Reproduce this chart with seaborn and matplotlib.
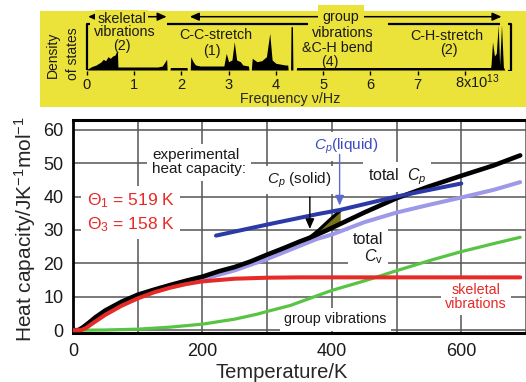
import matplotlib
matplotlib.use("Agg")
import matplotlib.pyplot as plt
from matplotlib.patches import Rectangle
import seaborn as sns

# heat capacity panel: temperature in K, heat capacity in J/(K mol)
temp_total = [0, 8, 15, 25, 35, 50, 75, 100, 125, 150, 175, 200, 225, 250, 275, 300,
              325, 350, 365, 390, 413, 450, 500, 550, 600, 650, 691]
cp_total = [0, 0, 0.8, 2.3, 3.9, 5.9, 8.5, 10.6, 12.1, 13.5, 14.8, 16.0, 17.6, 18.9, 20.6, 22.6,
            24.5, 26.5, 27.6, 29.7, 31.8, 35.2, 39.5, 43.0, 46.2, 49.3, 52.3]

# experimental Cp(solid) near melting, and the total Cp beneath it
temp_solid = [365, 380, 395, 413]
cp_solid = [27.6, 30.0, 32.7, 35.8]
cp_total_melt = [27.6, 28.9, 30.2, 31.8]

temp_liquid = [221, 300, 377, 413, 500, 600]
cp_liquid = [28.3, 31.6, 34.7, 36.0, 40.0, 43.9]

temp_cv = [0, 10, 25, 50, 75, 100, 150, 200, 250, 300, 350, 377, 400, 450, 500, 550, 600, 650, 691]
cv_total = [0, 0, 1.8, 5.4, 8.0, 9.9, 13.0, 15.2, 17.9, 21.3, 25.2, 27.3, 28.6, 32.3, 35.2, 37.5,
            39.7, 42.0, 44.3]

temp_skel = [0, 12, 20, 30, 50, 75, 100, 125, 150, 175, 200, 250, 300, 350, 691]
cp_skel = [0, 0, 0.6, 2.0, 4.6, 7.3, 9.5, 11.3, 12.7, 13.8, 14.6, 15.4, 15.7, 15.8, 15.8]

temp_group = [0, 15, 50, 100, 150, 200, 250, 285, 300, 336, 387, 400, 453, 500, 554, 600, 650, 691]
cp_group = [0, 0, 0.05, 0.3, 0.9, 1.8, 3.3, 4.8, 5.6, 7.4, 11.0, 11.9, 14.9, 17.8, 21.0, 23.5,
            25.9, 27.8]

# density of states panel: frequency in 1e13 Hz, height in arbitrary units
dos_freq = [0.00, 0.10, 0.20, 0.30, 0.35, 0.40, 0.45, 0.50, 0.55, 0.60, 0.63, 0.65, 0.66,
            1.50, 1.60, 1.69, 1.70,
            1.76, 1.77, 2.12, 2.13,
            2.19, 2.20, 2.25, 2.30, 2.40, 2.90, 2.95, 3.00, 3.07, 3.12, 3.17, 3.25, 3.30, 3.42, 3.43,
            3.48, 3.50, 3.60, 3.70, 3.80, 3.87, 3.92, 4.00, 4.20, 4.25, 4.26,
            4.31, 4.32, 4.35, 4.36,
            4.43, 4.44, 8.54, 8.55,
            8.58, 8.62, 8.66, 8.70, 8.73, 8.77, 8.81, 8.84]
dos_height = [0.5, 3.3, 5.0, 8.0, 10.7, 9.3, 13.3, 11.7, 14.0, 15.0, 18.3, 18.0, 3.0,
              3.0, 4.0, 10.7, 0.0,
              0.0, 2.5, 2.5, 0.0,
              0.0, 13.3, 8.3, 5.0, 4.0, 4.0, 16.7, 8.3, 10.0, 28.3, 10.0, 8.3, 5.0, 4.0, 0.0,
              0.0, 11.7, 8.3, 9.3, 13.3, 36.7, 10.0, 6.7, 5.0, 5.0, 0.0,
              0.0, 43.3, 43.3, 0.0,
              0.0, 2.5, 2.5, 6.0,
              28.3, 14.0, 16.7, 45.0, 5.0, 45.0, 3.0, 0.0]
dos_ticks = [0, 1, 2, 3, 4, 5, 6, 7, 8]
dos_ticklabels = ["0", "1", "2", "3", "4", "5", "6", "7", ""]
band_tops = [(1.69, 4.68), (6.37, 8.74)]
bracket_left = 0.0
bracket_right = 8.97
bracket_height = 46
arrow_skeletal = (0.03, 1.69)
arrow_group = (2.18, 8.77)

sns.set_theme(style="white")
plt.rcParams["font.family"] = ["Liberation Sans", "DejaVu Sans"]
plt.rcParams["mathtext.fontset"] = "custom"
plt.rcParams["mathtext.rm"] = "Liberation Sans"
plt.rcParams["mathtext.it"] = "Liberation Sans:italic"
plt.rcParams["mathtext.bf"] = "Liberation Sans:bold"
plt.rcParams["text.color"] = "#1a1a1a"

W, H = 526, 382


def box(x0, y0, x1, y1):
    return [x0 / W, 1 - y1 / H, (x1 - x0) / W, (y1 - y0) / H]


fig = plt.figure(figsize=(W / 100, H / 100), dpi=100)
fig.add_artist(Rectangle(box(40, 11, 526, 107)[:2], 486 / W, 96 / H, transform=fig.transFigure,
                         facecolor="#ebe23a", edgecolor="none", zorder=-1))

# ---------------- main heat capacity plot
ax = fig.add_axes(box(73, 120, 526, 333))
ax.set_facecolor("white")

sns.lineplot(x=temp_group, y=cp_group, ax=ax, color="#58c444", lw=2.3, zorder=3)
sns.lineplot(x=temp_cv, y=cv_total, ax=ax, color="#9d99e8", lw=2.9, zorder=3.1)
ax.fill_between(temp_solid, cp_total_melt, cp_solid, color="#77731a", lw=0, zorder=3.2)
sns.lineplot(x=temp_total, y=cp_total, ax=ax, color="black", lw=3.3, zorder=3.3)
sns.lineplot(x=temp_solid, y=cp_solid, ax=ax, color="black", lw=2.3, zorder=3.3)
sns.lineplot(x=temp_skel, y=cp_skel, ax=ax, color="#e52a27", lw=2.9, zorder=3.4)
sns.lineplot(x=temp_liquid, y=cp_liquid, ax=ax, color="#2c3aa8", lw=2.9, zorder=3.5)

ax.set_xlim(0, 691)
ax.set_ylim(-0.85, 62.9)
ax.set_xticks([0, 200, 400, 600])
ax.set_xticks([100, 300, 500, 700], minor=True)
ax.set_yticks(range(0, 61, 10))
ax.set_axisbelow(True)
ax.grid(True, which="both", color="#555555", lw=1.1)
ax.tick_params(axis="both", which="both", length=0, labelsize=13, pad=7, labelcolor="#1a1a1a")
ax.spines["right"].set_visible(False)
ax.spines["top"].set_linewidth(2.2)
ax.spines["left"].set_linewidth(2.0)
ax.spines["bottom"].set_linewidth(2.2)
for s in ax.spines.values():
    s.set_color("black")

ax.set_xlabel("Temperature/K", fontsize=14.5, va="center")
ax.xaxis.set_label_coords(0.461, -0.186)
ax.set_ylabel("Heat capacity/JK$^{-1}$mol$^{-1}$", fontsize=15, va="center")
ax.yaxis.set_label_coords(-0.106, 0.488)

wbox = dict(boxstyle="square,pad=0.3", facecolor="white", edgecolor="none")
ax.text(122, 50.2, "experimental\nheat capacity:", fontsize=11, ha="left", va="center",
        linespacing=1.0, bbox=wbox, zorder=2.6)
ax.text(21, 38.7, "\u0398$_1$ = 519 K", fontsize=12.5, color="#e52a27", ha="left", va="center",
        bbox=wbox, zorder=2.6)
ax.text(21, 31.7, "\u0398$_3$ = 158 K", fontsize=12.5, color="#e52a27", ha="left", va="center",
        bbox=wbox, zorder=2.6)
ax.text(349, 44.9, "$C_p$ (solid)", fontsize=11, ha="center", va="center", bbox=wbox, zorder=2.6)
ax.text(422, 54.9, "$C_p$(liquid)", fontsize=11, color="#3b4bc0", ha="center", va="center",
        bbox=wbox, zorder=2.6)
ax.text(501, 45.9, "total  $C_p$", fontsize=11.5, ha="center", va="center", bbox=wbox, zorder=2.6)
ax.text(479, 24.2, "total\n$C_\\mathrm{v}$", fontsize=11.5, ha="right", va="center",
        multialignment="right", linespacing=1.0, bbox=wbox, zorder=2.6)
ax.text(623, 10.0, "skeletal\nvibrations", fontsize=10.3, color="#e52a27", ha="center",
        va="center", linespacing=1.0, bbox=wbox, zorder=2.6)
ax.text(405, 3.2, "group vibrations", fontsize=10.3, ha="center", va="center", bbox=wbox,
        zorder=2.6)

ax.annotate("", xy=(366, 30.3), xytext=(366, 39.8),
            arrowprops=dict(arrowstyle="-|>,head_length=0.5,head_width=0.22", color="black",
                            lw=1.0, shrinkA=0, shrinkB=0), zorder=4)
ax.annotate("", xy=(412, 37.3), xytext=(412, 52.6),
            arrowprops=dict(arrowstyle="-|>,head_length=0.5,head_width=0.22", color="#5d6bd0",
                            lw=1.0, shrinkA=0, shrinkB=0), zorder=4)

# ---------------- density of states panel
ax2 = fig.add_axes(box(77, 14, 520, 71))
ax2.set_facecolor("none")
ax2.fill_between(dos_freq, 0, dos_height, color="black", lw=0, zorder=3)
ax2.set_xlim(-0.205, 9.161)
ax2.set_ylim(-1, 56)
for s in ax2.spines.values():
    s.set_visible(False)
ax2.set_yticks([])
ax2.set_xticks(dos_ticks)
ax2.set_xticklabels(dos_ticklabels)
ax2.tick_params(axis="x", bottom=True, length=3, width=1, direction="out", color="black",
                pad=2.2, labelsize=10.5, labelcolor="#1a1a1a")
ax2.text(7.79, -0.29, "8x10$^{13}$", transform=ax2.get_xaxis_transform(), ha="left",
         va="baseline", fontsize=10.5)
ax2.set_xlabel("Frequency \u03bd/Hz", fontsize=10.3, va="center")
ax2.xaxis.set_label_coords(0.481, -0.50)
ax2.text(-0.054, 0.281, "Density", rotation=90, fontsize=10, ha="center", va="center",
         transform=ax2.transAxes)
ax2.text(-0.009, 0.31, "of states", rotation=90, fontsize=10, ha="center", va="center",
         transform=ax2.transAxes)

# brackets
ax2.plot([bracket_left + 0.06, bracket_left, bracket_left], [bracket_height, bracket_height, 0],
         color="black", lw=1.6, solid_capstyle="butt")
ax2.plot([bracket_right - 0.07, bracket_right, bracket_right, bracket_right - 0.07],
         [bracket_height, bracket_height, -0.5, -0.5], color="black", lw=1.6, solid_capstyle="butt")
for a, b in band_tops:
    ax2.plot([a, b], [bracket_height, bracket_height], color="black", lw=1.6, solid_capstyle="butt")

arr = dict(arrowstyle="<|-|>,head_length=0.45,head_width=0.2", color="black", lw=1.1,
           shrinkA=0, shrinkB=0)
ax2.annotate("", xy=(arrow_skeletal[0], 53.3), xytext=(arrow_skeletal[1], 53.3), arrowprops=arr,
             zorder=4)
ax2.annotate("", xy=(arrow_group[0], 53.3), xytext=(arrow_group[1], 53.3), arrowprops=arr,
             zorder=4)

ybox = dict(boxstyle="square,pad=0.15", facecolor="#ebe23a", edgecolor="none")
tk = dict(fontsize=10.3, ha="center", va="center", zorder=5)
ax2.text(0.74, 51.0, "skeletal", bbox=ybox, **tk)
ax2.text(0.81, 38.3, "vibrations", **tk)
ax2.text(0.75, 24.4, "(2)", **tk)
ax2.text(2.74, 35.0, "C-C-stretch", **tk)
ax2.text(2.64, 19.3, "(1)", **tk)
ax2.text(5.38, 53.3, "group", bbox=dict(boxstyle="square,pad=0.3", facecolor="#ebe23a",
                                         edgecolor="none"), **tk)
ax2.text(5.41, 36.7, "vibrations", **tk)
ax2.text(5.30, 22.5, "&C-H bend", **tk)
ax2.text(5.14, 8.3, "(4)", **tk)
ax2.text(7.61, 34.2, "C-H-stretch", **tk)
ax2.text(7.66, 20.0, "(2)", **tk)

fig.savefig("out.png", dpi=100)
